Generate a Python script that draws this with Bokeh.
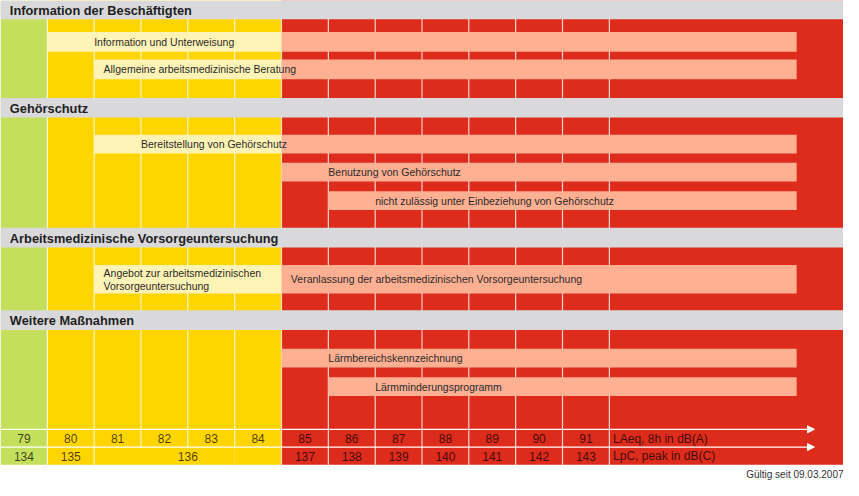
from bokeh.plotting import figure
from bokeh.models import Range1d, Arrow, NormalHead
from bokeh.core.properties import value
from bokeh.embed import file_html
from bokeh.resources import INLINE

# ---------------- data ----------------
levels_laeq = [79, 80, 81, 82, 83, 84, 85, 86, 87, 88, 89, 90, 91]
levels_peak = [134, 135, 136, 136, 136, 136, 137, 138, 139, 140, 141, 142, 143]
lower_action = 80   # unterer Auslösewert
upper_action = 85   # oberer Auslösewert

sections = ["Information der Beschäftigten", "Gehörschutz",
            "Arbeitsmedizinische Vorsorgeuntersuchung", "Weitere Maßnahmen"]

measure_labels = ["Information und Unterweisung",
                  "Allgemeine arbeitsmedizinische Beratung",
                  "Bereitstellung von Gehörschutz",
                  "Benutzung von Gehörschutz",
                  "nicht zulässig unter Einbeziehung von Gehörschutz",
                  "Angebot zur arbeitsmedizinischen\nVorsorgeuntersuchung",
                  "Veranlassung der arbeitsmedizinischen Vorsorgeuntersuchung",
                  "Lärmbereichskennzeichnung",
                  "Lärmminderungsprogramm"]
measure_start = [80, 81, 81, 85, 86, 81, 85, 85, 86]
measure_end = [None, None, None, None, None, 85, None, None, None]

axis_label_a = "LAeq, 8h in dB(A)"
axis_label_c = "LpC, peak in dB(C)"
footer = "Gültig seit 09.03.2007"

# ---------------- layout / style ----------------
FONT = value("Liberation Sans")
GREEN, YELLOW, RED = "#C4DF5B", "#FFD500", "#DD2B1C"
LIGHT_Y, SALMON, GRAY = "#FFF3B5", "#FFB092", "#D9D9DB"
TOP, ROW1, ROW2, BOTTOM = 3, 439, 457, 475
TOTAL_COLS, BAR_END = 18, 17
header_spans = [(3, 22), (102, 122), (234, 254), (318, 338)]
measure_y = [45, 73, 149, 177.5, 206.5, 286.5, 286.5, 366.5, 395.5]
measure_h = [20, 20, 19, 19, 19, 29, 29, 19, 19]
label_off = [1.0, 0.2, 1.0, 1.0, 1.0, 0.2, 0.2, 1.0, 1.0]

n = len(levels_laeq)

def col_of(level):
    return levels_laeq.index(level) if level in levels_laeq else n

def zone_color(level):
    if level < lower_action:
        return GREEN
    if level < upper_action:
        return YELLOW
    return RED

p = figure(width=843, height=480, output_backend="svg", toolbar_location=None,
           x_range=Range1d(0, TOTAL_COLS), y_range=Range1d(491, 3),
           min_border=0, outline_line_color=None)
p.axis.visible = False
p.grid.visible = False
p.background_fill_color = "white"

# columns
left = list(range(n)) + [n]
right = list(range(1, n + 1)) + [TOTAL_COLS]
colors = [zone_color(l) for l in levels_laeq] + [RED]
p.quad(left=left, right=right, top=[TOP] * len(left), bottom=[BOTTOM] * len(left),
       fill_color=colors, line_color=None)

# vertical separators
xs, ys = [], []
for i in range(1, n + 1):
    xs.append([i, i]); ys.append([TOP, ROW2])
    if i == n or levels_peak[i] != levels_peak[i - 1]:
        xs.append([i, i]); ys.append([ROW2, BOTTOM])
p.multi_line(xs=xs, ys=ys, line_color="white", line_alpha=0.75, line_width=1.2)

# bars
bl, br, bt, bb, bc = [], [], [], [], []
split = col_of(upper_action)
for s, e, yc, h in zip(measure_start, measure_end, measure_y, measure_h):
    c0 = col_of(s)
    c1 = col_of(e) if e is not None else BAR_END
    if c0 < split:
        bl.append(c0); br.append(min(c1, split)); bt.append(yc - h / 2); bb.append(yc + h / 2); bc.append(LIGHT_Y)
    if c1 > split:
        bl.append(max(c0, split)); br.append(c1); bt.append(yc - h / 2); bb.append(yc + h / 2); bc.append(SALMON)
p.quad(left=bl, right=br, top=bt, bottom=bb, fill_color=bc, line_color=None)

p.text(x=[col_of(s) + o for s, o in zip(measure_start, label_off)], y=measure_y,
       text=measure_labels, text_font=FONT, text_font_size=value("10.5px"),
       text_color="#2a2a2a", text_align="left", text_baseline="middle",
       text_line_height=1.05)

# headers
p.quad(left=[0] * 4, right=[TOTAL_COLS] * 4, top=[a for a, b in header_spans],
       bottom=[b for a, b in header_spans], fill_color=GRAY, line_color=None)
p.text(x=[0.2] * 4, y=[(a + b) / 2 + 0.5 for a, b in header_spans], text=sections,
       text_font=FONT, text_font_size=value("12.8px"), text_font_style="bold",
       text_color="#1e1e1e", text_align="left", text_baseline="middle")

# horizontal arrow lines
for yy in (ROW1, ROW2):
    p.add_layout(Arrow(end=NormalHead(size=7, fill_color="white", line_color="white"),
                       x_start=0, y_start=yy, x_end=17.38, y_end=yy,
                       line_color="white", line_width=1.2))

# row numbers
p.text(x=[i + 0.5 for i in range(n)], y=[448.5] * n, text=[str(v) for v in levels_laeq],
       text_font=FONT, text_font_size=value("12px"), text_color="#000000", text_alpha=0.72,
       text_align="center", text_baseline="middle")
gx, gt = [], []
i = 0
while i < n:
    j = i
    while j + 1 < n and levels_peak[j + 1] == levels_peak[i]:
        j += 1
    gx.append((i + j + 1) / 2); gt.append(str(levels_peak[i]))
    i = j + 1
p.text(x=gx, y=[466.5] * len(gx), text=gt, text_font=FONT, text_font_size=value("12px"),
       text_color="#000000", text_alpha=0.72, text_align="center", text_baseline="middle")
p.text(x=[n + 0.08, n + 0.08], y=[448.5, 466.5], text=[axis_label_a, axis_label_c],
       text_font=FONT, text_font_size=value("12px"), text_color="#000000", text_alpha=0.72,
       text_align="left", text_baseline="middle")

# footer
p.text(x=[TOTAL_COLS], y=[485], text=[footer], text_font=FONT, text_font_size=value("10px"),
       text_color="#333333", text_align="right", text_baseline="middle")

open("out.html", "w").write(file_html(p, INLINE))
